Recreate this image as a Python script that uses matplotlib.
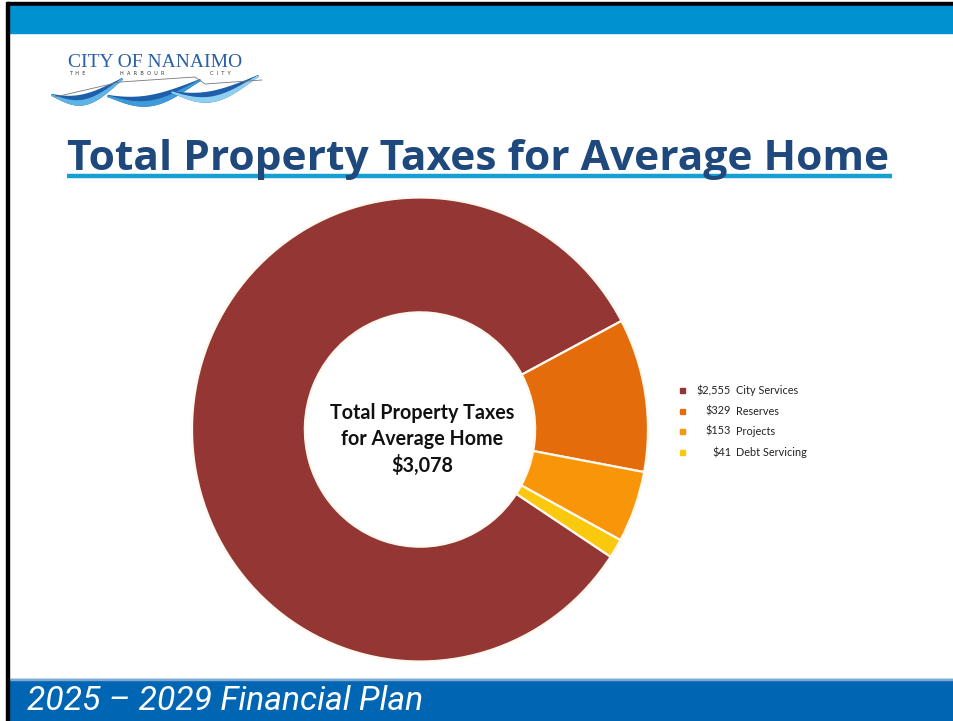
import matplotlib
matplotlib.use("Agg")
import matplotlib.pyplot as plt
import numpy as np
from matplotlib.patches import Rectangle, Polygon

# ---------------- data ----------------
categories = ["City Services", "Reserves", "Projects", "Debt Servicing"]
values = [2555, 329, 153, 41]
colors = ["#933634", "#E46C0A", "#F89509", "#FAC90E"]
total_label = "$3,078"
title = "Total Property Taxes for Average Home"
center_lines = ["Total Property Taxes", "for Average Home", total_label]
footer = "2025 \u2013 2029 Financial Plan"

W, H = 954, 721
fig = plt.figure(figsize=(W / 100, H / 100), dpi=100)
fig.patch.set_facecolor("white")

# background axes in pixel coordinates
bg = fig.add_axes([0, 0, 1, 1])
bg.set_xlim(0, W)
bg.set_ylim(H, 0)
bg.axis("off")

# top bar
bg.add_patch(Rectangle((7, 2), W - 7, 3.5, color="black", zorder=1))
bg.add_patch(Rectangle((9, 5.5), W - 9, 27, color="#0092D0", zorder=1))
# left border
bg.add_patch(Rectangle((6.5, 2), 2.5, H - 2, color="black", zorder=3))
# bottom bar
bg.add_patch(Rectangle((9, 679), W - 9, H - 679, color="#0066B3", zorder=1))
bg.add_patch(Rectangle((9, 678.5), W - 9, 1.2, color="#7FA9D3", zorder=1))

renderer = fig.canvas.get_renderer()


def fit_text(x, y, s, target_w, ha="left", va="baseline", **kw):
    t = bg.text(x, y, s, ha=ha, va=va, **kw)
    fs = t.get_fontsize()
    for _ in range(4):
        bb = t.get_window_extent(renderer=renderer)
        fs = fs * target_w / bb.width
        t.set_fontsize(fs)
    return t


# title
fit_text(67, 170, title, 823, color="#1F497D", fontweight="bold",
         family="Open Sans", fontsize=30)
bg.plot([67, 892], [175.5, 175.5], color="#15A0D2", lw=3.2,
        solid_capstyle="butt", zorder=2)

# footer
fit_text(27, 710, footer, 395, color="white", style="italic",
         fontweight="normal", family="Roboto", fontsize=24)

# logo
fit_text(68, 67, "CITY OF NANAIMO", 174, family="Liberation Serif",
         fontsize=14, color="#2B5FA6")
for x0, s in [(69, "T  H  E"), (120, "H  A  R  B  O  U  R"), (210, "C  I  T  Y")]:
    bg.text(x0, 75, s, ha="left", va="baseline", family="DejaVu Sans",
            fontsize=3.6, color="#333333")

t = np.linspace(0, 1, 80)
ribbons = [(52, 122, 95, "#1D5FAA", "#5FB4E6"),
           (108, 200, 96, "#1D5FAA", "#3E9BD8"),
           (172, 258, 92, "#1D5FAA", "#8FD0F0")]
for (x0, x1, yb, cdark, clight) in ribbons:
    px = x0 + (x1 - x0) * t
    yc = yb + 6 * np.sin(np.pi * 1.3 * t) - 11 * t ** 3
    thick = 1 + 9 * np.sin(np.pi * t) ** 1.2
    top = yc - thick / 2
    bot = yc + thick / 2
    pts = np.column_stack([np.r_[px, px[::-1]], np.r_[top, bot[::-1]]])
    bg.add_patch(Polygon(pts, closed=True, color=cdark, zorder=2))
    mid = yc + thick * 0.05
    pts2 = np.column_stack([np.r_[px, px[::-1]], np.r_[mid, bot[::-1]]])
    bg.add_patch(Polygon(pts2, closed=True, color=clight, zorder=2))
bg.plot([55, 120, 195, 205, 262], [97, 82, 77, 84, 80], color="#777777",
        lw=0.6, zorder=3)

# donut
cx, cy, Rx, Ry = 420, 429.5, 228, 232
pie_ax = fig.add_axes([(cx - Rx) / W, 1 - (cy + Ry) / H, 2 * Rx / W, 2 * Ry / H])
frac_city = values[0] / sum(values)
start = 27.9 + frac_city * 360
pie_ax.pie(values, colors=colors, startangle=start, counterclock=False,
           radius=1, wedgeprops=dict(width=0.495, edgecolor="#FFF8EE",
                                     linewidth=1.6))
pie_ax.set_xlim(-1, 1)
pie_ax.set_ylim(-1, 1)
pie_ax.set_aspect("auto")
pie_ax.axis("off")

# center text
for yy, s in zip([419, 445, 472], center_lines):
    bg.text(422, yy, s, ha="center", va="baseline", fontweight="bold",
            family="Lato", fontsize=14.2, color="#111111", zorder=5)

# legend
leg_y = [390, 411, 431, 452]
for yy, v, name, c in zip(leg_y, values, categories, colors):
    bg.add_patch(Rectangle((680.5, yy - 2.5), 5, 5, color=c, zorder=5))
    bg.text(731, yy + 4, f"${v:,}", ha="right", va="baseline",
            family="Lato", fontsize=7.8, color="#222222")
    bg.text(736, yy + 4, name, ha="left", va="baseline",
            family="Lato", fontsize=7.8, color="#222222")

fig.savefig("out.png", dpi=100, facecolor="white")
